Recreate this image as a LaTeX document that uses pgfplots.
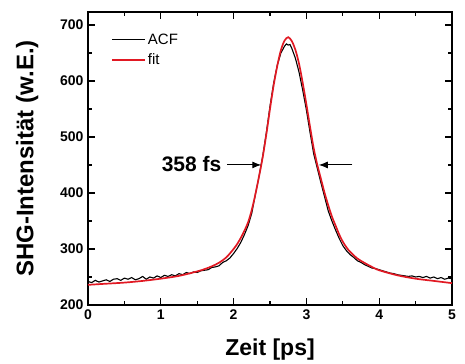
\documentclass[border=0pt]{standalone}
\usepackage{pgfplots}
\pgfplotsset{compat=1.18}
\usepackage{fontspec}
\setmainfont{Liberation Sans}
\usetikzlibrary{arrows.meta}
\definecolor{fitred}{RGB}{225,25,35}
\begin{document}
\begin{tikzpicture}
\begin{axis}[
  name=ax,
  scale only axis,
  width=364pt, height=293pt,
  xmin=0, xmax=5, ymin=200, ymax=723,
  xtick={0,1,2,3,4,5},
  ytick={200,300,400,500,600,700},
  minor x tick num=1,
  minor y tick num=1,
  tick align=inside,
  major tick length=7pt,
  minor tick length=4pt,
  axis line style={line width=1.6pt},
  every tick/.style={line width=1.3pt, black},
  /pgf/number format/assume math mode=true,
  ticklabel style={font=\bfseries\fontsize{14}{14}\selectfont},
  xticklabel style={yshift=-1pt},
  yticklabel style={xshift=-1pt},
  xlabel={Zeit [ps]},
  ylabel={SHG-Intensität (w.E.)},
  xlabel style={font=\bfseries\fontsize{23}{23}\selectfont, at={(axis description cs:0.5,-0.152)}, anchor=center},
  ylabel style={font=\bfseries\fontsize{24}{24}\selectfont, at={(axis description cs:-0.167,0.5)}, anchor=center, rotate=0},
  legend style={draw=none, fill=none, at={(axis description cs:0.055,0.94)}, anchor=north west, font=\fontsize{15}{15}\selectfont, row sep=4pt},
  legend cell align=left,
]
\addlegendimage{legend image code/.code={\draw[black, line width=1.1pt] (0pt,0pt) -- (33pt,0pt);}}
\addlegendentry{ACF}
\addlegendimage{legend image code/.code={\draw[fitred, line width=1.7pt] (0pt,0pt) -- (33pt,0pt);}}
\addlegendentry{fit}
\addplot[black, line width=1.1pt, forget plot] coordinates {
(0.00,242) (0.05,240) (0.10,244) (0.15,241) (0.20,243) (0.25,245) (0.30,242) (0.35,246)
(0.40,247) (0.45,244) (0.50,248) (0.55,246) (0.60,249) (0.65,245) (0.70,247) (0.75,251)
(0.80,246) (0.85,250) (0.90,248) (0.95,252) (1.00,249) (1.05,253) (1.10,251) (1.15,254)
(1.20,252) (1.25,256) (1.30,254) (1.35,258) (1.40,256) (1.45,259) (1.50,258) (1.55,261)
(1.60,262) (1.65,263) (1.70,267) (1.75,268) (1.80,270) (1.85,276) (1.90,279) (1.95,284)
(2.00,292) (2.05,301) (2.10,312) (2.15,326) (2.20,342) (2.25,364) (2.30,398) (2.35,430)
(2.40,466) (2.45,508) (2.50,555) (2.55,596) (2.60,628) (2.65,650) (2.70,662) (2.725,666)
(2.75,664) (2.775,665) (2.80,658) (2.85,640) (2.90,615) (2.95,583) (3.00,548) (3.05,508)
(3.10,470) (3.15,444) (3.20,418) (3.25,393) (3.30,368) (3.35,350) (3.40,334) (3.45,319)
(3.50,306) (3.55,297) (3.60,290) (3.65,285) (3.70,279) (3.75,276) (3.80,272) (3.85,269)
(3.90,266) (3.95,265) (4.00,263) (4.05,261) (4.10,259) (4.15,257) (4.20,256) (4.25,254)
(4.30,253) (4.35,252) (4.40,251) (4.45,252) (4.50,250) (4.55,251) (4.60,249) (4.65,251)
(4.70,248) (4.75,250) (4.80,247) (4.85,249) (4.90,246) (4.95,248) (5.00,247)
};
\addplot[fitred, line width=1.7pt, smooth, forget plot] coordinates {
(0,236) (0.25,238) (0.5,240) (0.75,243) (1.0,247) (1.25,252) (1.5,260) (1.6,264)
(1.7,269) (1.8,275.5) (1.9,285) (2.0,300) (2.05,309) (2.1,320) (2.15,333) (2.2,348)
(2.25,370) (2.3,398) (2.35,430) (2.4,464) (2.45,505) (2.5,550) (2.55,592) (2.6,627)
(2.65,655) (2.7,672) (2.75,678) (2.8,671) (2.85,655) (2.9,630) (2.95,596) (3.0,558)
(3.05,518) (3.1,480) (3.15,450) (3.2,425) (3.25,400) (3.3,378) (3.35,358) (3.4,342)
(3.45,326) (3.5,313) (3.55,303) (3.6,295) (3.7,283) (3.8,275) (3.9,268) (4.0,262)
(4.25,253) (4.5,247) (4.75,243) (5.0,239)
};
\draw[line width=1pt, -{Latex[length=9pt,width=7pt]}] (axis cs:1.91,450) -- (axis cs:2.38,450);
\draw[line width=1pt, -{Latex[length=9pt,width=7pt]}] (axis cs:3.63,450) -- (axis cs:3.17,450);
\node[font=\bfseries\fontsize{21}{21}\selectfont, anchor=east] at (axis cs:1.88,452) {358 fs};
\end{axis}
\path ([shift={(-88pt,-58pt)}]ax.south west) rectangle ([shift={(13pt,12pt)}]ax.north east);
\end{tikzpicture}
\end{document}
